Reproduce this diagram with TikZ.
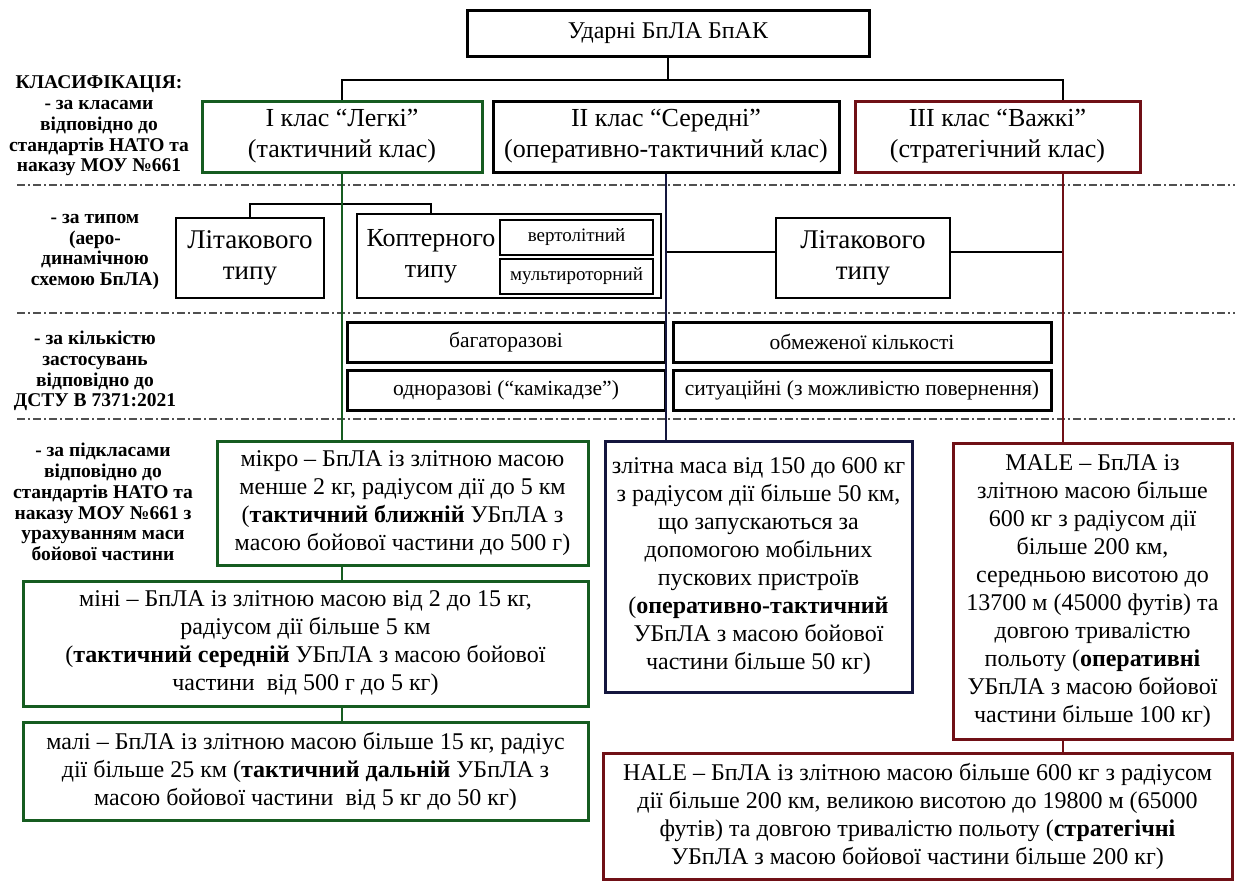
\documentclass[tikz,border=0pt]{standalone}
\usepackage{fontspec}
\setmainfont{Liberation Serif}
\definecolor{bgreen}{RGB}{22,92,32}
\definecolor{bred}{RGB}{112,16,22}
\definecolor{bnavy}{RGB}{20,22,62}
\definecolor{dashgray}{RGB}{80,80,80}
\tikzset{
  bigtext/.style={font=\fontsize{26}{31}\selectfont, align=center},
  typetext/.style={font=\fontsize{27}{31}\selectfont, align=center},
  midtext/.style={font=\fontsize{24}{28}\selectfont, align=center},
  smalltext/.style={font=\fontsize{21.5}{24}\selectfont, align=center},
  tinytext/.style={font=\fontsize{19}{22}\selectfont, align=center},
  lab/.style={font=\fontsize{19.5}{20.8}\selectfont\bfseries, align=center, inner sep=0},
  boxbase/.style={draw, inner sep=0, fill=white},
  thickbox/.style={boxbase, line width=3pt},
  medbox/.style={boxbase, line width=2pt},
  thinbox/.style={boxbase, line width=1.3pt},
  conn/.style={line width=1.3pt},
  vline/.style={line width=2pt},
  sep/.style={dashgray, line width=1.2pt, dash pattern=on 8pt off 3pt on 2pt off 3pt},
}
\begin{document}
\begin{tikzpicture}[x=1pt,y=-1pt]
\useasboundingbox[fill=white] (0,0) rectangle (1235,881);

% separators
\draw[sep] (17,185) -- (1235,185);
\draw[sep] (17,313) -- (1235,313);
\draw[sep] (17,419) -- (1235,419);

% left labels
\node[lab] (l1) at (99,126) {КЛАСИФІКАЦІЯ:\\- за класами\\відповідно до\\стандартів НАТО та\\наказу МОУ №661};
\node[lab] (l2) at (95,252) {- за типом\\(аеро-\\динамічною\\схемою БпЛА)};
\node[lab] (l3) at (95,371) {- за кількістю\\застосувань\\відповідно до\\ДСТУ В 7371:2021};
\node[lab] (l4) at (103,502) {- за підкласами\\відповідно до\\стандартів НАТО та\\наказу МОУ №661 з\\урахуванням маси\\бойової частини};

% top
\node[thickbox, font=\fontsize{24}{28}\selectfont, minimum width=402pt, minimum height=46pt] (top) at (668,33) {Ударні БпЛА БпАК};
\node[thickbox, bigtext, draw=bgreen, minimum width=280pt, minimum height=71pt] (c1) at (342,136.5) {І клас “Легкі”\\(тактичний клас)};
\node[thickbox, bigtext, minimum width=346pt, minimum height=71pt] (c2) at (666,136.5) {ІІ клас “Середні”\\(оперативно-тактичний клас)};
\node[thickbox, bigtext, draw=bred, minimum width=285pt, minimum height=71pt] (c3) at (997.5,136.5) {ІІІ клас “Важкі”\\(стратегічний клас)};
\coordinate (bus) at (668,80);
\coordinate (c3drop) at (1063,80);
\draw[conn] (top.south) -- (bus);
\draw[conn] (c1.north) |- (c3drop) -- (c3drop |- c3.north);

% type row
\node[medbox, typetext, minimum width=148pt, minimum height=80pt] (plane1) at (250,258) {Літакового\\типу};
\node[thinbox, minimum width=304pt, minimum height=84pt] (copter) at (509,256) {};
\node[bigtext, inner sep=0] (coptxt) at (431,256) {Коптерного\\типу};
\node[thinbox, tinytext, minimum width=153pt, minimum height=35pt] (heli) at (576.5,237.5) {вертолітний};
\node[thinbox, tinytext, minimum width=153pt, minimum height=35pt] (multi) at (576.5,276.5) {мультироторний};
\node[medbox, typetext, minimum width=174pt, minimum height=80pt] (plane2) at (863,258) {Літакового\\типу};
\draw[conn] (plane1.north) -- ++(0,-13) -| (copter.north -| coptxt);

% usage row
\node[thickbox, smalltext, minimum width=318pt, minimum height=40pt] (reuse) at (506,342) {багаторазові};
\node[thickbox, smalltext, minimum width=378pt, minimum height=40pt] (limited) at (862,342) {обмеженої кількості};
\node[thickbox, smalltext, minimum width=318pt, minimum height=40pt] (single) at (506,390) {одноразові (“камікадзе”)};
\node[thickbox, smalltext, minimum width=378pt, minimum height=40pt] (situ) at (862,390) {ситуаційні (з можливістю повернення)};

% subclass row
\node[thickbox, midtext, draw=bgreen, minimum width=371pt, minimum height=124pt] (micro) at (402.5,503) {мікро – БпЛА із злітною масою\\менше 2 кг, радіусом дії до 5 км\\(\textbf{тактичний ближній} УБпЛА з\\масою бойової частини до 500 г)};
\node[thickbox, midtext, draw=bgreen, minimum width=565pt, minimum height=125pt] (mini) at (305.5,643.5) {міні – БпЛА із злітною масою від 2 до 15 кг,\\радіусом дії більше 5 км\\(\textbf{тактичний середній} УБпЛА з масою бойової\\частини\ \ від 500 г до 5 кг)};
\node[thickbox, midtext, draw=bgreen, minimum width=565pt, minimum height=98pt] (mali) at (305.5,771) {малі – БпЛА із злітною масою більше 15 кг, радіус\\дії більше 25 км (\textbf{тактичний дальній} УБпЛА з\\масою бойової частини\ \ від 5 кг до 50 кг)};
\node[thickbox, midtext, draw=bnavy, minimum width=307pt, minimum height=251pt] (sub2) at (758.5,566.5) {злітна маса від 150 до 600 кг\\з радіусом дії більше 50 км,\\що запускаються за\\допомогою мобільних\\пускових пристроїв\\(\textbf{оперативно-тактичний}\\УБпЛА з масою бойової\\частини більше 50 кг)};
\node[thickbox, midtext, draw=bred, minimum width=279pt, minimum height=296pt] (male) at (1092.5,591) {MALE – БпЛА із\\злітною масою більше\\600 кг з радіусом дії\\більше 200 км,\\середньою висотою до\\13700 м (45000 футів) та\\довгою тривалістю\\польоту (\textbf{оперативні}\\УБпЛА з масою бойової\\частини більше 100 кг)};
\node[thickbox, midtext, draw=bred, minimum width=629pt, minimum height=126pt] (hale) at (917.5,816) {HALE – БпЛА із злітною масою більше 600 кг з радіусом\\дії більше 200 км, великою висотою до 19800 м (65000\\футів) та довгою тривалістю польоту (\textbf{стратегічні}\\УБпЛА з масою бойової частини більше 200 кг)};

% connectors type row
\coordinate (p2w) at ([yshift=6pt]plane2.west);
\coordinate (p2e) at ([yshift=6pt]plane2.east);
\draw[conn] (c2.south |- p2w) -- (p2w);
\draw[conn] (p2e) -- (c3drop |- p2e);

% coloured verticals
\draw[vline, bgreen] (c1.south) -- (c1.south |- micro.north);
\draw[vline, bnavy] (c2.south) -- (c2.south |- sub2.north);
\draw[vline, bred] (c3drop |- c3.south) -- (c3drop |- male.north);
\draw[vline, bgreen] (c1.south |- micro.south) -- (c1.south |- mini.north);
\draw[vline, bgreen] (c1.south |- mini.south) -- (c1.south |- mali.north);
\draw[vline, bred] (c3drop |- male.south) -- (c3drop |- hale.north);
\end{tikzpicture}
\end{document}
